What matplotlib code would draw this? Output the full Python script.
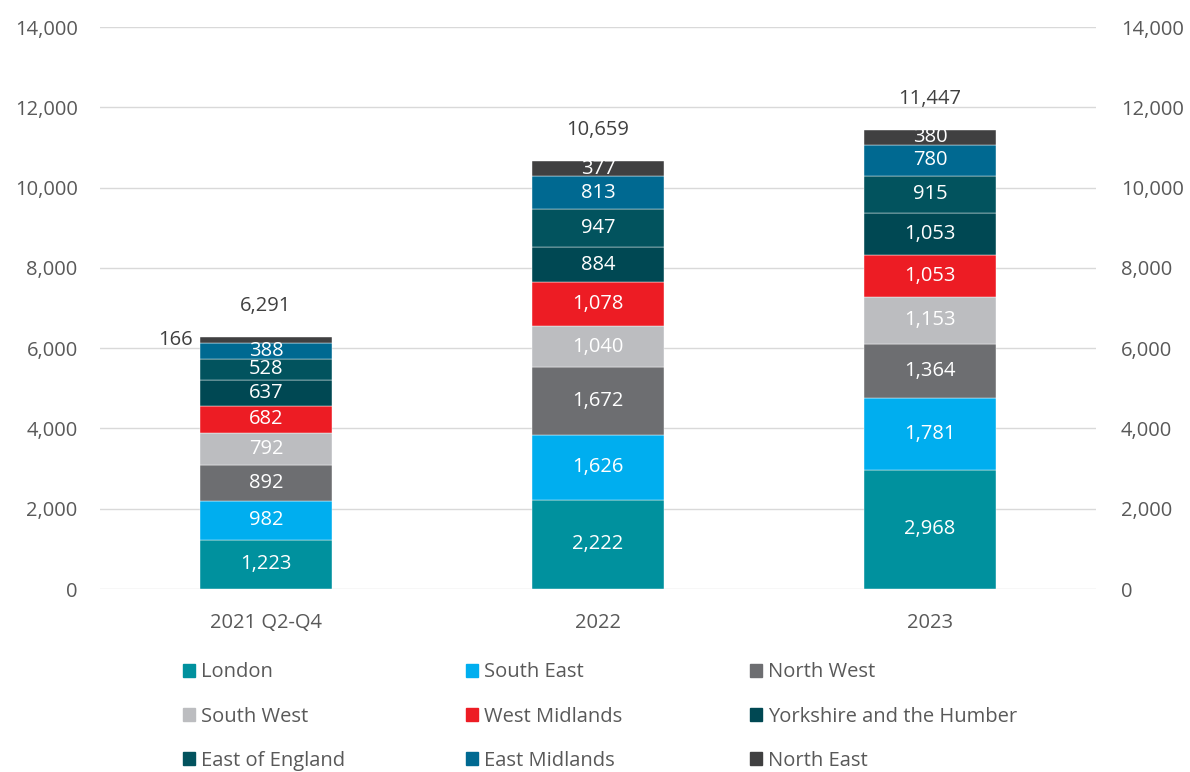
import matplotlib.pyplot as plt
from matplotlib.patches import Patch

plt.rcParams['font.family'] = ['Open Sans', 'DejaVu Sans']

periods = ['2021 Q2-Q4', '2022', '2023']
regions = ['London', 'South East', 'North West', 'South West', 'West Midlands',
           'Yorkshire and the Humber', 'East of England', 'East Midlands', 'North East']
london = [1223, 2222, 2968]
south_east = [982, 1626, 1781]
north_west = [892, 1672, 1364]
south_west = [792, 1040, 1153]
west_midlands = [682, 1078, 1053]
yorkshire = [637, 884, 1053]
east_of_england = [528, 947, 915]
east_midlands = [388, 813, 780]
north_east = [166, 377, 380]
totals = [6291, 10659, 11447]

series = [london, south_east, north_west, south_west, west_midlands,
          yorkshire, east_of_england, east_midlands, north_east]
colors = ['#00919E', '#00AEEF', '#6D6E71', '#BCBDC0', '#ED1C24',
          '#004853', '#02535E', '#006991', '#404041']

txt = '#595959'
fs = 14.5
fig = plt.figure(figsize=(11.9, 7.72), dpi=100)
ax = fig.add_axes([0.084, 0.237, 0.837, 0.728])

x = list(range(len(periods)))
bottom = [0, 0, 0]
for name, vals, c in zip(regions, series, colors):
    ax.bar(x, vals, 0.4, bottom=bottom, color=c, label=name,
           edgecolor='white', linewidth=0.3)
    for i, v in enumerate(vals):
        if name == 'North East' and i == 0:
            # small segment: label goes to the left of the bar
            ax.text(x[i] - 0.22, bottom[i] + v / 2, f'{v:,}', ha='right', va='center',
                    fontsize=fs, color='#404040')
        else:
            ax.text(x[i], bottom[i] + v / 2, f'{v:,}', ha='center', va='center',
                    fontsize=fs, color='white')
    bottom = [b + v for b, v in zip(bottom, vals)]

for i, t in enumerate(totals):
    ax.annotate(f'{t:,}', (x[i], bottom[i]), xytext=(0, 15), textcoords='offset points',
                ha='center', va='bottom', fontsize=fs, color='#404040')

ax.set_xlim(-0.5, 2.5)
ax.set_ylim(0, 14000)
ax.set_yticks(range(0, 14001, 2000))
ax.set_yticklabels([f'{v:,}' for v in range(0, 14001, 2000)])
ax.set_xticks(x)
ax.set_xticklabels(periods)
ax.yaxis.grid(True, color='#d9d9d9', linewidth=1)
ax.set_axisbelow(True)
for s in ax.spines.values():
    s.set_visible(False)
ax.tick_params(length=0, labelsize=fs, labelcolor=txt, pad=16)
ax.tick_params(axis='x', pad=17)

ax2 = ax.twinx()
ax2.set_ylim(0, 14000)
ax2.set_yticks(range(0, 14001, 2000))
ax2.set_yticklabels([f'{v:,}' for v in range(0, 14001, 2000)])
for s in ax2.spines.values():
    s.set_visible(False)
ax2.tick_params(length=0, labelsize=fs, labelcolor=txt, pad=18)

# legend: three fixed-width columns, filled row by row
columns = [[0, 3, 6], [1, 4, 7], [2, 5, 8]]
col_x = [0.1538, 0.3916, 0.6303]
for cx, col in zip(col_x, columns):
    handles = [Patch(color=colors[k], label=regions[k]) for k in col]
    fig.legend(handles=handles, loc='upper left', bbox_to_anchor=(cx, 0.142),
               frameon=False, fontsize=fs, labelcolor=txt, handlelength=0.6,
               handleheight=0.6, handletextpad=0.3, labelspacing=1.2,
               borderpad=0, borderaxespad=0)

plt.savefig('out.png', dpi=100)
